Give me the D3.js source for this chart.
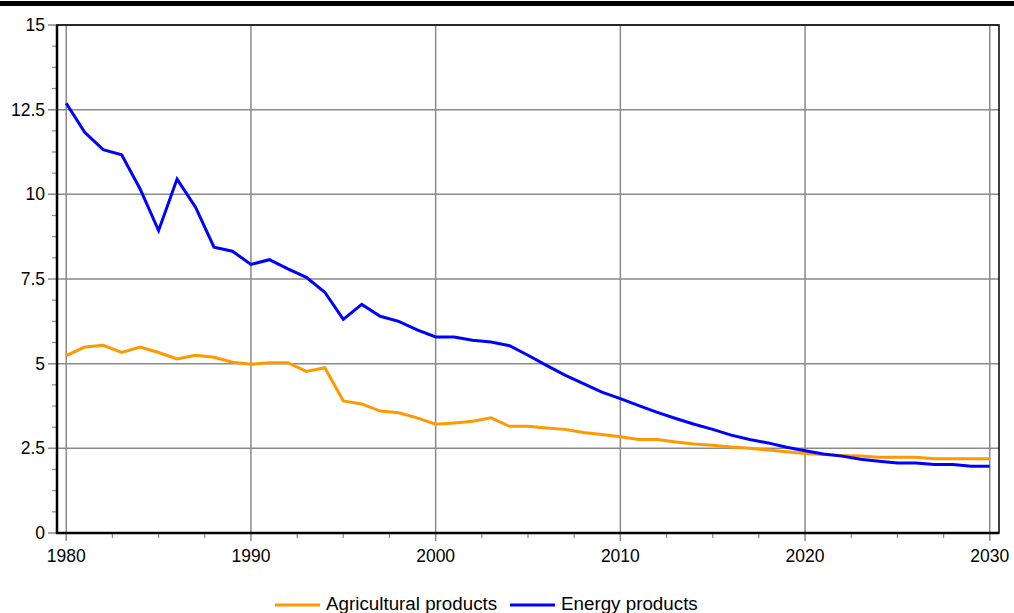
<!DOCTYPE html>
<html>
<head>
<meta charset="utf-8">
<script src="https://cdn.jsdelivr.net/npm/d3@7"></script>
<style>
  body { margin: 0; background: #fff; }
  svg { display: block; font-family: "Liberation Sans", Arial, sans-serif; }
</style>
</head>
<body>
<div id="chart"></div>
<script>
// Data
const years = d3.range(1980, 2031);
const agricultural = [
  5.24, 5.49, 5.54, 5.33, 5.49, 5.33, 5.14, 5.25, 5.19, 5.04,
  4.98, 5.03, 5.03, 4.77, 4.88, 3.90, 3.81, 3.60, 3.55, 3.40,
  3.21, 3.25, 3.30, 3.40, 3.15, 3.15, 3.10, 3.06, 2.97, 2.91,
  2.84, 2.76, 2.76, 2.69, 2.63, 2.59, 2.54, 2.50, 2.45, 2.40,
  2.35, 2.32, 2.29, 2.27, 2.24, 2.24, 2.24, 2.19, 2.19, 2.19,
  2.19
];
const energy = [
  12.69, 11.83, 11.32, 11.17, 10.16, 8.93, 10.45, 9.62, 8.44, 8.32,
  7.93, 8.07, 7.80, 7.55, 7.11, 6.31, 6.75, 6.40, 6.25, 6.00,
  5.79, 5.79, 5.69, 5.64, 5.53, 5.25, 4.95, 4.66, 4.41, 4.16,
  3.97, 3.76, 3.56, 3.38, 3.21, 3.06, 2.89, 2.76, 2.66, 2.53,
  2.43, 2.33, 2.27, 2.18, 2.12, 2.07, 2.07, 2.02, 2.02, 1.97,
  1.97
];
const seriesNames = ["Agricultural products", "Energy products"];
const seriesColors = ["#ff9900", "#0000ff"];
const yTicks = [0, 2.5, 5, 7.5, 10, 12.5, 15];
const xTicks = [1980, 1990, 2000, 2010, 2020, 2030];

function init() {
  const width = 1014, height = 613;
  const left = 57, right = 999, top = 25, bottom = 533;

  const svg = d3.select("#chart").append("svg")
    .attr("width", width).attr("height", height);

  // top black bar
  svg.append("rect").attr("x", 0).attr("y", 1).attr("width", width).attr("height", 5).attr("fill", "#000");

  const x = d3.scaleLinear().domain([1979.5, 2030.5]).range([left, right]);
  const y = d3.scaleLinear().domain([0, 15]).range([bottom, top]);

  // gridlines
  const grid = svg.append("g");
  grid.selectAll(".gx").data(xTicks).enter().append("line")
    .attr("x1", d => x(d)).attr("x2", d => x(d))
    .attr("y1", top).attr("y2", bottom + 8)
    .attr("stroke", "#8a8a8a").attr("stroke-width", 1.5);
  grid.selectAll(".gy").data(yTicks).enter().append("line")
    .attr("x1", left - 9).attr("x2", right)
    .attr("y1", d => y(d)).attr("y2", d => y(d))
    .attr("stroke", "#8a8a8a").attr("stroke-width", 1.5);

  // minor ticks
  const yMinor = d3.range(0, 15.001, 0.625).filter(v => !yTicks.includes(v));
  svg.append("g").selectAll("line").data(yMinor).enter().append("line")
    .attr("x1", left - 5).attr("x2", left)
    .attr("y1", d => y(d)).attr("y2", d => y(d))
    .attr("stroke", "#8a8a8a").attr("stroke-width", 1.2);
  const xMinor = d3.range(1980, 2030.001, 2.5).filter(v => !xTicks.includes(v));
  svg.append("g").selectAll("line").data(xMinor).enter().append("line")
    .attr("x1", d => x(d)).attr("x2", d => x(d))
    .attr("y1", bottom).attr("y2", bottom + 5)
    .attr("stroke", "#8a8a8a").attr("stroke-width", 1.2);

  // tick labels
  svg.append("g").selectAll("text").data(yTicks).enter().append("text")
    .attr("x", left - 12).attr("y", d => y(d)).attr("dy", "0.35em")
    .attr("text-anchor", "end").attr("font-size", 17.5).attr("fill", "#000")
    .text(d => d);
  svg.append("g").selectAll("text").data(xTicks).enter().append("text")
    .attr("x", d => x(d)).attr("y", 562)
    .attr("text-anchor", "middle").attr("font-size", 17.5).attr("fill", "#000")
    .text(d => d);

  // lines
  const line = d3.line().x((d, i) => x(years[i])).y(d => y(d));
  [agricultural, energy].forEach((s, k) => {
    svg.append("path").datum(s)
      .attr("d", line)
      .attr("fill", "none")
      .attr("stroke", seriesColors[k])
      .attr("stroke-width", 3)
      .attr("stroke-linejoin", "miter");
  });

  // frame
  svg.append("rect").attr("x", left).attr("y", top)
    .attr("width", right - left).attr("height", bottom - top)
    .attr("fill", "none").attr("stroke", "#000").attr("stroke-width", 1.5);
  svg.append("path").attr("d", `M${left},${top}V${bottom}H${right}`)
    .attr("fill", "none").attr("stroke", "#000").attr("stroke-width", 2.5);

  // legend
  const legendX = [275, 510];
  const legend = svg.append("g");
  seriesNames.forEach((name, k) => {
    legend.append("line")
      .attr("x1", legendX[k]).attr("x2", legendX[k] + 45)
      .attr("y1", 605).attr("y2", 605)
      .attr("stroke", seriesColors[k]).attr("stroke-width", 3);
    legend.append("text")
      .attr("x", legendX[k] + 51).attr("y", 610)
      .attr("font-size", 18.8).attr("fill", "#000")
      .text(name);
  });
}

window.onload = init;
</script>
</body>
</html>
